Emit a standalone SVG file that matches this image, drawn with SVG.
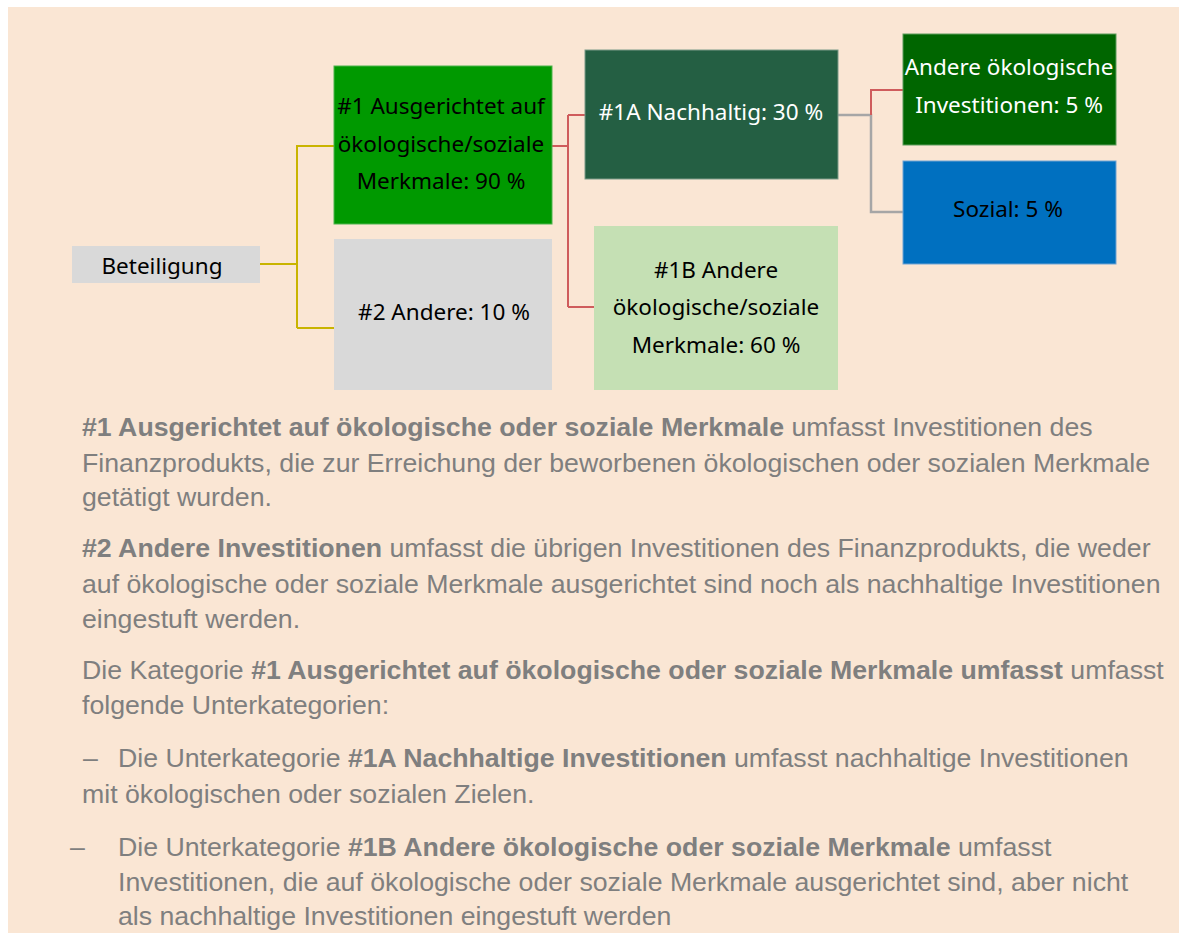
<svg xmlns="http://www.w3.org/2000/svg" width="1184" height="933" viewBox="0 0 1184 933">
<style>
.bt{font-family:"Noto Sans","Open Sans",sans-serif;font-size:22.5px;text-anchor:middle;fill:#000}
.wt{fill:#fff}
.p{font-family:"Liberation Sans",Arial,sans-serif;font-size:26.7px;fill:#7f7f7f}
.b{font-weight:bold}
.cy{fill:none;stroke:#c9b400;stroke-width:2}
.cr{fill:none;stroke:#cf5c5c;stroke-width:2}
.cg{fill:none;stroke:#a6a6a6;stroke-width:2.5}
</style>
<rect x="0" y="0" width="1184" height="933" fill="#ffffff"/>
<rect x="8" y="7" width="1171" height="926" fill="#fae6d4"/>
<g id="connectors">
<path class="cy" d="M260,264 H297 M297,145 V328 M297,146 H334 M297,328 H334"/>
<path class="cr" d="M552,146 H568 M568,115 V307 M568,115 H585 M568,307 H594"/>
<path class="cg" d="M838,115 H871 V212 H903"/>
<path class="cr" d="M871,115 V90 H903"/>
</g>
<g id="beteiligung">
<rect x="72" y="246" width="188" height="37" fill="#d9d9d9"/>
<text class="bt" x="162" y="274">Beteiligung</text>
</g>
<g id="n1">
<rect x="334" y="66" width="218" height="158" fill="#009900" stroke="#4cb34c" stroke-width="1"/>
<text class="bt" x="441" y="114">#1 Ausgerichtet auf</text>
<text class="bt" x="441" y="152">ökologische/soziale</text>
<text class="bt" x="441" y="189">Merkmale: 90 %</text>
</g>
<g id="n2">
<rect x="334" y="239" width="218" height="151" fill="#d9d9d9"/>
<text class="bt" x="444" y="320">#2 Andere: 10 %</text>
</g>
<g id="n1a">
<rect x="585" y="50" width="253" height="129" fill="#245f43" stroke="#7a9a88" stroke-width="1"/>
<text class="bt wt" x="711" y="120">#1A Nachhaltig: 30 %</text>
</g>
<g id="n1b">
<rect x="594" y="226" width="244" height="164" fill="#c5e0b4"/>
<text class="bt" x="716" y="278">#1B Andere</text>
<text class="bt" x="716" y="315">ökologische/soziale</text>
<text class="bt" x="716" y="353">Merkmale: 60 %</text>
</g>
<g id="n_oeko">
<rect x="903" y="34" width="213" height="111" fill="#006600" stroke="#5c9c5c" stroke-width="1"/>
<text class="bt wt" x="1009" y="75">Andere ökologische</text>
<text class="bt wt" x="1009" y="113">Investitionen: 5 %</text>
</g>
<g id="n_sozial">
<rect x="903" y="161" width="213" height="103" fill="#0070c0" stroke="#6fa3d3" stroke-width="1"/>
<text class="bt" x="1008" y="217">Sozial: 5 %</text>
</g>
<g id="legend">
<text class="p" x="82" y="436"><tspan class="b">#1 Ausgerichtet auf ökologische oder soziale Merkmale</tspan> umfasst Investitionen des</text>
<text class="p" x="82" y="472">Finanzprodukts, die zur Erreichung der beworbenen ökologischen oder sozialen Merkmale</text>
<text class="p" x="82" y="506">getätigt wurden.</text>
<text class="p" x="82" y="557"><tspan class="b">#2 Andere Investitionen</tspan> umfasst die übrigen Investitionen des Finanzprodukts, die weder</text>
<text class="p" x="82" y="593">auf ökologische oder soziale Merkmale ausgerichtet sind noch als nachhaltige Investitionen</text>
<text class="p" x="82" y="628">eingestuft werden.</text>
<text class="p" x="82" y="679">Die Kategorie <tspan class="b">#1 Ausgerichtet auf ökologische oder soziale Merkmale umfasst</tspan> umfasst</text>
<text class="p" x="82" y="714">folgende Unterkategorien:</text>
<text class="p" x="83" y="767">–</text>
<text class="p" x="118" y="767">Die Unterkategorie <tspan class="b">#1A Nachhaltige Investitionen</tspan> umfasst nachhaltige Investitionen</text>
<text class="p" x="82" y="803">mit ökologischen oder sozialen Zielen.</text>
<text class="p" x="70" y="856">–</text>
<text class="p" x="118" y="856">Die Unterkategorie <tspan class="b">#1B Andere ökologische oder soziale Merkmale</tspan> umfasst</text>
<text class="p" x="118" y="891">Investitionen, die auf ökologische oder soziale Merkmale ausgerichtet sind, aber nicht</text>
<text class="p" x="118" y="925">als nachhaltige Investitionen eingestuft werden</text>
</g>
</svg>
